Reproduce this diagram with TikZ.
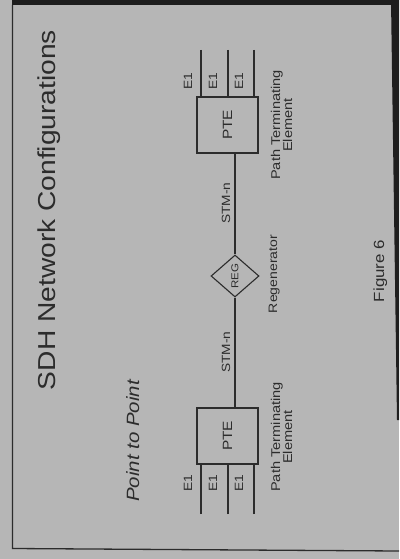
\documentclass[tikz,border=0pt]{standalone}
\usepackage{fontspec}
\newfontfamily\lsans[FakeStretch=1.15]{Liberation Sans}
\usetikzlibrary{shapes.geometric}
\definecolor{bg}{HTML}{B6B6B6}
\definecolor{ink}{HTML}{2C2C2C}
\definecolor{edge}{HTML}{1E1E1E}
\begin{document}
\begin{tikzpicture}[x=1pt,y=1pt,
  txt/.style={rotate=90, anchor=base, inner sep=0pt, text=ink, font=\lsans},
  fs/.style={font=\lsans\fontsize{#1}{#1}\selectfont},
  ptebox/.style={rotate=90, draw=ink, line width=1.2pt, inner sep=0pt,
    minimum width=56pt, minimum height=61pt, text=ink, font=\lsans\fontsize{13.4}{14}\selectfont},
  regbox/.style={rotate=90, diamond, draw=ink, line width=1.1pt, inner sep=0pt,
    minimum width=42pt, minimum height=48pt, text=ink, font=\lsans\fontsize{10}{10}\selectfont},
  wire/.style={draw=ink, line width=1.4pt},
  thinwire/.style={draw=ink, line width=1.3pt},
  thickwire/.style={draw=ink, line width=2.6pt}]
\useasboundingbox (0,0) rectangle (399,-559);
\fill[bg] (0,0) rectangle (399,-559);
% photo frame
\fill[edge] (12,0) rectangle (399,-5);
\fill[edge] (391,0) -- (399,0) -- (399,-420) -- (397,-420) -- cycle;
\draw[ink, line width=1.3pt] (12.5,-5) -- (12.5,-548.5) -- (399,-551);

% title and subtitle
\node[txt, fs=24.5] (title) at (55,-210) {SDH Network Configurations};
\node[txt, font=\lsans\itshape\fontsize{17.8}{18}\selectfont] (p2p) at (139,-441) {Point to Point};

% elements
\node[ptebox] (pteL) at (227.5,-436) {PTE};
\node[ptebox] (pteR) at (227.5,-125) {PTE};
\node[regbox] (reg) at (235,-276) {REG};

% line connectors
\draw[wire] (reg.east) -- (reg.east |- pteR.west);
\draw[wire] (reg.west) -- (reg.west |- pteL.east);

% E1 tributaries
\coordinate (la) at (201,-514);
\coordinate (lb) at (228,-514);
\coordinate (lc) at (254,-514);
\coordinate (ra) at (201,-50);
\coordinate (rb) at (228,-50);
\coordinate (rc) at (254,-50);
\draw[thickwire] (la) -- (la |- pteL.west);
\draw[thinwire] (lb) -- (lb |- pteL.west);
\draw[thinwire] (lc) -- (lc |- pteL.west);
\draw[thickwire] (ra) -- (ra |- pteR.east);
\draw[thinwire] (rb) -- (rb |- pteR.east);
\draw[thinwire] (rc) -- (rc |- pteR.east);

\node[txt, fs=12] (le1a) at (192,-483) {E1};
\node[txt, fs=12] (le1b) at (217,-483) {E1};
\node[txt, fs=12] (le1c) at (243,-483) {E1};
\node[txt, fs=12] (re1a) at (192,-81) {E1};
\node[txt, fs=12] (re1b) at (217,-81) {E1};
\node[txt, fs=12] (re1c) at (243,-81) {E1};

% link labels
\node[txt, fs=11.9] (stmR) at (230,-203) {STM-n};
\node[txt, fs=11.9] (stmL) at (230,-352) {STM-n};
\node[txt, fs=12.2] (regl) at (277,-274) {Regenerator};

\node[txt, fs=12.7] (ptlL1) at (280,-437) {Path Terminating};
\node[txt, fs=12.7] (ptlL2) at (292,-437) {Element};
\node[txt, fs=12.7] (ptlR1) at (280,-125) {Path Terminating};
\node[txt, fs=12.7] (ptlR2) at (292,-125) {Element};

\node[txt, fs=14.7] (fig) at (384,-271) {Figure 6};
\end{tikzpicture}
\end{document}
